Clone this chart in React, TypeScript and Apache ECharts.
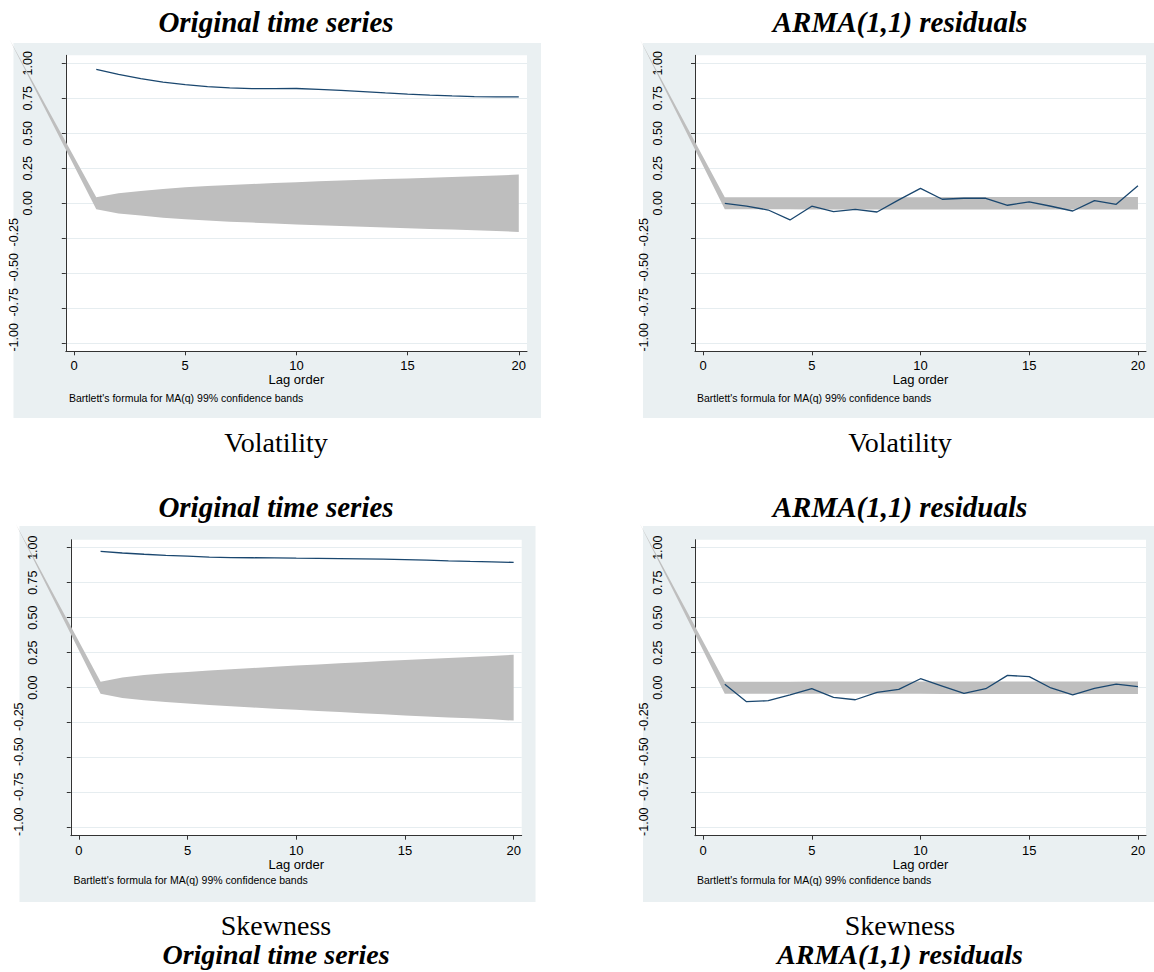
import React, { useEffect, useRef } from "react";
import * as echarts from "echarts";

// ---------- data ----------
const lags = [1, 2, 3, 4, 5, 6, 7, 8, 9, 10, 11, 12, 13, 14, 15, 16, 17, 18, 19, 20];
const xTicks = [0, 5, 10, 15, 20];
const yTicksAll = [-1, -0.75, -0.5, -0.25, 0, 0.25, 0.5, 0.75, 1];
const yTicksPos = [0, 0.25, 0.5, 0.75, 1];
const yTicksNeg = [-1, -0.75, -0.5, -0.25];

// Volatility, original series ACF and 99% band half-width
const volAcf = [0.957, 0.92, 0.89, 0.866, 0.848, 0.833, 0.824, 0.819, 0.819, 0.82, 0.814, 0.807, 0.798, 0.788, 0.78, 0.773, 0.767, 0.762, 0.76, 0.76];
const volBand = [0.043, 0.072, 0.088, 0.103, 0.114, 0.123, 0.131, 0.138, 0.145, 0.151, 0.157, 0.163, 0.168, 0.173, 0.178, 0.183, 0.188, 0.193, 0.198, 0.205];
// Volatility, ARMA(1,1) residuals
const volResAcf = [0.0, -0.02, -0.048, -0.119, -0.021, -0.06, -0.043, -0.062, 0.024, 0.107, 0.029, 0.036, 0.036, -0.014, 0.01, -0.021, -0.055, 0.019, -0.007, 0.126];
const volResBand = [0.043, 0.043, 0.043, 0.043, 0.044, 0.044, 0.044, 0.044, 0.044, 0.044, 0.045, 0.045, 0.045, 0.045, 0.045, 0.045, 0.045, 0.045, 0.045, 0.045];
// Skewness, original series
const skewAcf = [0.974, 0.962, 0.953, 0.945, 0.939, 0.933, 0.929, 0.928, 0.927, 0.925, 0.924, 0.922, 0.92, 0.918, 0.915, 0.911, 0.906, 0.902, 0.899, 0.895];
const skewBand = [0.043, 0.073, 0.09, 0.103, 0.113, 0.123, 0.132, 0.141, 0.15, 0.158, 0.166, 0.174, 0.182, 0.19, 0.198, 0.205, 0.212, 0.219, 0.226, 0.235];
// Skewness, ARMA(1,1) residuals
const skewResAcf = [0.024, -0.1, -0.093, -0.052, -0.007, -0.069, -0.086, -0.033, -0.012, 0.064, 0.012, -0.04, -0.007, 0.088, 0.079, -0.002, -0.052, -0.005, 0.026, 0.007];
const skewResBand = [0.043, 0.043, 0.043, 0.043, 0.044, 0.044, 0.044, 0.044, 0.044, 0.044, 0.045, 0.045, 0.045, 0.045, 0.045, 0.045, 0.045, 0.045, 0.045, 0.045];

// stray vertex of the band polygon (drawn by the original software)
const strayPoint = [-2.9, 1.17];

const titles = ["Original time series", "ARMA(1,1) residuals", "Original time series", "ARMA(1,1) residuals"];
const subtitles = ["Volatility", "Volatility", "Skewness", "Skewness"];
const xName = "Lag order";
const note = "Bartlett's formula for MA(q) 99% confidence bands";

// ---------- layout ----------
const SANS = "'Liberation Sans', Arial, sans-serif";
const SERIF = "'Liberation Serif', 'Times New Roman', serif";
const Y_MIN = -1.057;
const Y_MAX = 1.057;
const X_MIN = -0.37;
const X_MAX = 20.37;
const NEG_SHIFT = 0.043;

const layouts = [
  { grid: { left: 65.8, top: 55.3, width: 461.2, height: 296 }, bg: [13.5, 43, 527.5, 375], cx: 276, titleY: 22, subY: 442, noteX: 69, noteY: 398 },
  { grid: { left: 695, top: 55.3, width: 451, height: 296 }, bg: [643, 43, 511, 375], cx: 900, titleY: 22, subY: 442, noteX: 697, noteY: 398 },
  { grid: { left: 70.8, top: 539.7, width: 450.9, height: 296 }, bg: [19.5, 526, 516, 376], cx: 276, titleY: 507, subY: 925, noteX: 73.5, noteY: 880 },
  { grid: { left: 695, top: 539.7, width: 451, height: 296 }, bg: [643, 526, 511, 376], cx: 900, titleY: 507, subY: 925, noteX: 697, noteY: 880 },
];

const panelData = [
  { acf: volAcf, band: volBand },
  { acf: volResAcf, band: volResBand },
  { acf: skewAcf, band: skewBand },
  { acf: skewResAcf, band: skewResBand },
];

const fmt = (v: number) => v.toFixed(2);

function buildOption() {
  const grid: any[] = [];
  const xAxis: any[] = [];
  const yAxis: any[] = [];
  const series: any[] = [];
  const graphic: any[] = [];

  layouts.forEach((L, i) => {
    grid.push({ ...L.grid, containLabel: false, show: false });
    xAxis.push({
      type: "value",
      gridIndex: i,
      min: X_MIN,
      max: X_MAX,
      axisLine: { show: true, onZero: false, lineStyle: { color: "#333", width: 1 } },
      axisTick: { show: true, length: 4, customValues: xTicks, lineStyle: { color: "#333" } },
      axisLabel: { customValues: xTicks, margin: 8, fontSize: 13, color: "#000", fontFamily: SANS },
      splitLine: { show: false },
      name: xName,
      nameLocation: "middle",
      nameGap: 22,
      nameTextStyle: { fontSize: 13, color: "#000", fontFamily: SANS },
    });
    yAxis.push({
      type: "value",
      gridIndex: i,
      position: "left",
      min: Y_MIN,
      max: Y_MAX,
      axisLine: { show: true, onZero: false, lineStyle: { color: "#333", width: 1 } },
      axisTick: { show: true, length: 4, customValues: yTicksAll, lineStyle: { color: "#333" } },
      axisLabel: { customValues: yTicksPos, rotate: 90, margin: 31, formatter: fmt, fontSize: 12.5, color: "#000", fontFamily: SANS },
      splitLine: { show: true, lineStyle: { color: "#E6EDF0", width: 1 } },
    });
    yAxis.push({
      type: "value",
      gridIndex: i,
      position: "left",
      offset: 14,
      min: Y_MIN - NEG_SHIFT,
      max: Y_MAX - NEG_SHIFT,
      axisLine: { show: false },
      axisTick: { show: false },
      splitLine: { show: false },
      axisLabel: { customValues: yTicksNeg, rotate: 90, margin: 31, formatter: fmt, fontSize: 12.5, color: "#000", fontFamily: SANS },
    });

    const { acf, band } = panelData[i];
    series.push({
      type: "custom",
      xAxisIndex: i,
      yAxisIndex: 2 * i,
      clip: false,
      silent: true,
      z: 2,
      data: [[10, 0]],
      renderItem: (_params: any, api: any) => {
        const pts: number[][] = [api.coord(strayPoint)];
        lags.forEach((l, k) => pts.push(api.coord([l, band[k]])));
        for (let k = lags.length - 1; k >= 0; k--) pts.push(api.coord([lags[k], -band[k]]));
        return { type: "polygon", shape: { points: pts }, style: { fill: "#BEBEBE", stroke: "none" } };
      },
    });
    series.push({
      type: "line",
      xAxisIndex: i,
      yAxisIndex: 2 * i,
      data: lags.map((l, k) => [l, acf[k]]),
      showSymbol: false,
      symbol: "none",
      lineStyle: { color: "#1A476F", width: 1.3 },
      z: 3,
      silent: true,
    });

    graphic.push({
      type: "rect",
      z: -20,
      silent: true,
      shape: { x: L.bg[0], y: L.bg[1], width: L.bg[2], height: L.bg[3] },
      style: { fill: "#EAF0F2" },
    });
    graphic.push({
      type: "rect",
      z: -19,
      silent: true,
      shape: { x: L.grid.left, y: L.grid.top, width: L.grid.width, height: L.grid.height },
      style: { fill: "#FFFFFF" },
    });
    graphic.push({
      type: "text",
      x: L.cx,
      y: L.titleY,
      silent: true,
      style: { text: titles[i], fontFamily: SERIF, fontWeight: "bold", fontStyle: "italic", fontSize: 29, fill: "#000", align: "center", verticalAlign: "middle" },
    });
    graphic.push({
      type: "text",
      x: L.cx,
      y: L.subY,
      silent: true,
      style: { text: subtitles[i], fontFamily: SERIF, fontSize: 28, fill: "#000", align: "center", verticalAlign: "middle" },
    });
    graphic.push({
      type: "text",
      x: L.noteX,
      y: L.noteY,
      silent: true,
      style: { text: note, fontFamily: SANS, fontSize: 10.5, fill: "#000", align: "left", verticalAlign: "middle" },
    });
  });

  // repeated titles at the very bottom of the page
  [0, 1].forEach((i) => {
    graphic.push({
      type: "text",
      x: layouts[i].cx,
      y: 954,
      silent: true,
      style: { text: titles[i], fontFamily: SERIF, fontWeight: "bold", fontStyle: "italic", fontSize: 28, fill: "#000", align: "center", verticalAlign: "middle" },
    });
  });

  return {
    animation: false,
    backgroundColor: "#FFFFFF",
    textStyle: { fontFamily: SANS },
    grid,
    xAxis,
    yAxis,
    series,
    graphic,
  };
}

export default function App() {
  const ref = useRef<HTMLDivElement>(null);
  useEffect(() => {
    if (!ref.current) return;
    const chart = echarts.init(ref.current, undefined, { renderer: "svg" });
    chart.setOption(buildOption() as any);
    return () => chart.dispose();
  }, []);
  return (
    <div
      ref={ref}
      style={{ position: "absolute", left: 0, top: 0, width: 1154, height: 972 }}
    />
  );
}
